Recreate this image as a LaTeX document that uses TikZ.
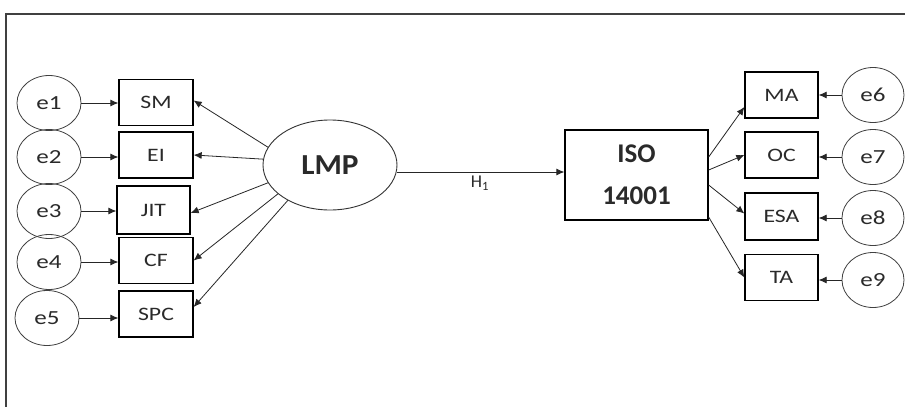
\documentclass[tikz,border=0pt]{standalone}
\usepackage{fontspec}
\setmainfont{Carlito}
\newfontfamily\widefont[FakeStretch=1.25]{Carlito}
\newfontfamily\lmpfont[FakeStretch=1.08]{Carlito}
\usetikzlibrary{shapes.geometric,arrows.meta}
\definecolor{ink}{HTML}{2A2A2A}
\begin{document}
\begin{tikzpicture}[x=1pt,y=-1pt,
  errc/.style={ellipse,draw=black!75,line width=0.8pt,minimum width=64pt,minimum height=55pt,inner sep=0pt,font=\widefont\fontsize{20}{20}\selectfont,text=ink},
  obs/.style={rectangle,draw=black,line width=1.3pt,minimum width=74pt,minimum height=46pt,inner sep=0pt,font=\widefont\fontsize{19}{19}\selectfont,text=ink},
  arr/.style={-{Latex[length=8pt,width=7pt]},line width=0.8pt,draw=black!85}]
\useasboundingbox (0,0) rectangle (905,407);
\fill[white] (0,0) rectangle (905,407);
\draw[line width=1.6pt,black!75] (905,14) -- (6,14) -- (6,407);
% left side
\node[errc] (e1) at (49,103) {e1};
\node[errc] (e2) at (49,157) {e2};
\node[errc] (e3) at (49,211) {e3};
\node[errc] (e4) at (49,262) {e4};
\node[errc] (e5) at (47,318) {e5};
\node[obs] (SM) at (156,102.5) {SM};
\node[obs] (EI) at (156,155) {EI};
\node[obs,minimum width=73pt,minimum height=48pt] (JIT) at (153.5,210) {JIT};
\node[obs] (CF) at (156,260.5) {CF};
\node[obs] (SPC) at (156,314) {SPC};
\node[ellipse,draw=black!80,line width=0.9pt,minimum width=134pt,minimum height=90pt,inner sep=0pt,font=\lmpfont\fontsize{29}{29}\selectfont\bfseries,text=ink] (LMP) at (330,165) {LMP};
\node[rectangle,draw=black,line width=1.3pt,minimum width=143pt,minimum height=90pt,inner sep=0pt,align=center,font=\fontsize{27}{42}\selectfont\bfseries,text=ink] (ISO) at (636.5,175) {ISO\\14001};
% right side
\node[obs,minimum width=73pt] (MA) at (781.5,95) {MA};
\node[obs,minimum width=73pt] (OC) at (781.5,155) {OC};
\node[obs,minimum width=73pt,minimum height=47pt] (ESA) at (781.5,216.5) {ESA};
\node[obs,minimum width=73pt] (TA) at (781.5,277.5) {TA};
\node[errc,minimum width=62pt] (e6) at (873,95) {e6};
\node[errc,minimum width=62pt] (e7) at (873,157) {e7};
\node[errc,minimum width=62pt] (e8) at (873,218) {e8};
\node[errc,minimum width=62pt] (e9) at (873,280) {e9};
% error arrows
\draw[arr] (e1.east) -- (SM.west |- e1.east);
\draw[arr] (e2.east) -- (EI.west |- e2.east);
\draw[arr] (e3.east) -- (JIT.west |- e3.east);
\draw[arr] (e4.east) -- (CF.west |- e4.east);
\draw[arr] (e5.east) -- (SPC.west |- e5.east);
\draw[arr] (e6.west) -- (MA.east |- e6.west);
\draw[arr] (e7.west) -- (OC.east |- e7.west);
\draw[arr] (e8.west) -- (ESA.east |- e8.west);
\draw[arr] (e9.west) -- (TA.east |- e9.west);
% LMP loadings
\draw[arr] (LMP.164) -- ([yshift=2pt]SM.east);
\draw[arr] (LMP.175) -- (EI.east);
\draw[arr] (LMP.196) -- ([yshift=-3pt]JIT.east);
\draw[arr] (LMP.209) -- (CF.east);
\draw[arr] (LMP.220) -- ([yshift=7pt]SPC.east);
% structural path
\draw[arr] (LMP.east |- 0,172) coordinate (s) -- (ISO.west |- s);
\node[font=\fontsize{18}{18}\selectfont,text=ink] (h1) at (480,183) {H\textsubscript{1}};
% ISO loadings
\draw[arr] ([yshift=18pt]ISO.east) -- ([yshift=-12pt]MA.west);
\draw[arr] ([yshift=5pt]ISO.east) -- (OC.west);
\draw[arr] ([yshift=-10pt]ISO.east) -- ([yshift=3pt]ESA.west);
\draw[arr] ([yshift=-42pt]ISO.east) -- (TA.west);
\end{tikzpicture}
\end{document}
